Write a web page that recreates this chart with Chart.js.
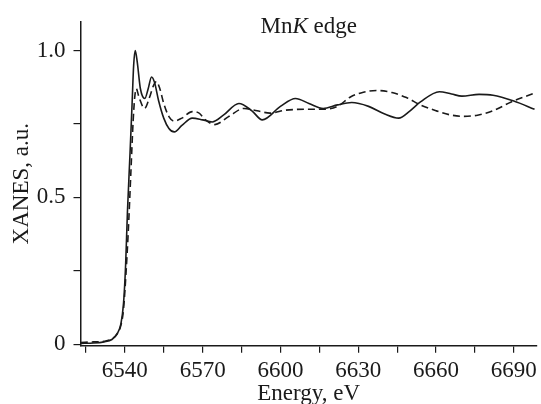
<!DOCTYPE html>
<html>
<head>
<meta charset="utf-8">
<script src="https://cdn.jsdelivr.net/npm/chart.js@4.4.0/dist/chart.umd.min.js"></script>
<style>
  html, body { margin: 0; padding: 0; background: #fff; }
  #wrap { width: 541px; height: 404px; }
</style>
</head>
<body>
<div id="wrap"><canvas id="grafico" width="541" height="404"></canvas></div>
<script>
// Mn K edge, XANES (solid = experiment, dashed = calculation)
const energiaSolid = [6523, 6528, 6532, 6535, 6537, 6538.5, 6539.5, 6540.3, 6541, 6542, 6542.8, 6543.4, 6544,
  6544.8, 6546, 6547.7, 6549, 6550.3, 6551.5, 6553, 6555, 6557, 6559.1, 6562, 6566, 6570, 6573.7, 6578, 6584,
  6589, 6593, 6600, 6605.8, 6611, 6616.5, 6622, 6627.5, 6634, 6640, 6645.6, 6650, 6654, 6661.3, 6666, 6670,
  6676.6, 6682, 6690, 6698];
const xanesSolid = [0.003, 0.004, 0.008, 0.016, 0.035, 0.07, 0.14, 0.27, 0.45, 0.65, 0.82, 0.95, 1.0,
  0.96, 0.87, 0.837, 0.87, 0.91, 0.89, 0.83, 0.77, 0.735, 0.723, 0.745, 0.77, 0.764, 0.757, 0.78, 0.82,
  0.795, 0.764, 0.81, 0.837, 0.82, 0.803, 0.815, 0.823, 0.81, 0.785, 0.77, 0.795, 0.825, 0.86, 0.852, 0.845,
  0.851, 0.848, 0.828, 0.80];

const energiaDashed = [6523, 6528, 6532, 6535, 6537, 6538.5, 6539.5, 6540.5, 6541.3, 6542.3, 6543.2, 6543.8,
  6544.4, 6545.5, 6547.6, 6549.5, 6551, 6552.2, 6553.5, 6555, 6557, 6559, 6562, 6566, 6568.5, 6571, 6574.7,
  6580, 6586, 6591, 6596, 6602, 6610, 6617, 6622, 6627, 6632, 6637.3, 6643, 6648.6, 6654, 6660, 6665, 6670.5,
  6676, 6682, 6689, 6698];
const xanesDashed = [0.006, 0.008, 0.01, 0.018, 0.035, 0.065, 0.12, 0.25, 0.38, 0.58, 0.76, 0.84,
  0.87, 0.84, 0.803, 0.84, 0.88, 0.895, 0.87, 0.82, 0.775, 0.76, 0.77, 0.792, 0.788, 0.765, 0.748,
  0.775, 0.803, 0.795, 0.787, 0.797, 0.80, 0.80, 0.81, 0.842, 0.858, 0.864, 0.857, 0.84, 0.815, 0.795, 0.782, 0.776,
  0.78, 0.795, 0.825, 0.855];

const xTicks = [6525, 6540, 6555, 6570, 6585, 6600, 6615, 6630, 6645, 6660, 6675, 6690];
const xLabels = [6540, 6570, 6600, 6630, 6660, 6690];
const yTicks = [0, 0.25, 0.5, 0.75, 1.0];
const yLabels = { 0: '0', 0.5: '0.5', 1: '1.0' };

const serif = "'Liberation Serif', 'Times New Roman', serif";
const tinta = '#1a1a1a';

function pontos(xs, ys) {
  return xs.map((x, i) => ({ x: x, y: ys[i] }));
}

// titulo "MnK edge" dentro da area do grafico
const tituloInterno = {
  id: 'tituloInterno',
  afterDraw(chart) {
    const ctx = chart.ctx;
    const area = chart.chartArea;
    const partes = [
      { t: 'Mn', f: '23px ' + serif },
      { t: 'K', f: 'italic 23px ' + serif },
      { t: ' edge', f: '23px ' + serif }
    ];
    ctx.save();
    let total = 0;
    partes.forEach(p => { ctx.font = p.f; p.w = ctx.measureText(p.t).width; total += p.w; });
    let x = (area.left + area.right) / 2 - total / 2;
    ctx.fillStyle = tinta;
    ctx.textBaseline = 'alphabetic';
    partes.forEach(p => { ctx.font = p.f; ctx.fillText(p.t, x, 33); x += p.w; });
    ctx.restore();
  }
};

new Chart(document.getElementById('grafico'), {
  type: 'scatter',
  data: {
    datasets: [
      {
        data: pontos(energiaSolid, xanesSolid),
        showLine: true,
        borderColor: tinta,
        borderWidth: 1.6,
        pointRadius: 0,
        cubicInterpolationMode: 'monotone'
      },
      {
        data: pontos(energiaDashed, xanesDashed),
        showLine: true,
        borderColor: tinta,
        borderWidth: 1.6,
        borderDash: [7, 4],
        pointRadius: 0,
        cubicInterpolationMode: 'monotone'
      }
    ]
  },
  options: {
    responsive: false,
    animation: false,
    layout: { padding: { top: 15, right: 4, left: 0, bottom: 0 } },
    plugins: { legend: { display: false }, tooltip: { enabled: false } },
    scales: {
      x: {
        type: 'linear',
        min: 6522.9,
        max: 6698.9,
        afterBuildTicks: s => { s.ticks = xTicks.map(v => ({ value: v })); },
        afterFit: s => { s.height = 58.3; },
        grid: { drawOnChartArea: false, drawTicks: true, tickLength: 7, color: tinta, lineWidth: 1.2 },
        border: { display: true, color: tinta, width: 1.5 },
        ticks: {
          autoSkip: false,
          maxRotation: 0,
          padding: 4,
          color: tinta,
          font: { family: serif, size: 23 },
          callback: v => xLabels.includes(v) ? String(v) : ''
        },
        title: {
          display: true,
          text: 'Energy, eV',
          color: tinta,
          font: { family: serif, size: 23, lineHeight: 1 },
          padding: { top: 0, bottom: -1 }
        }
      },
      y: {
        min: -0.005,
        max: 1.098,
        afterBuildTicks: s => { s.ticks = yTicks.map(v => ({ value: v })); },
        afterFit: s => { s.width = 80.5; },
        grid: { drawOnChartArea: false, drawTicks: true, tickLength: 7, color: tinta, lineWidth: 1.2 },
        border: { display: true, color: tinta, width: 1.5 },
        ticks: {
          padding: 8,
          color: tinta,
          font: { family: serif, size: 23 },
          callback: v => (v in yLabels) ? yLabels[v] : ''
        },
        title: {
          display: true,
          text: 'XANES, a.u.',
          color: tinta,
          font: { family: serif, size: 23, lineHeight: 1 },
          padding: { top: 10, bottom: 0 }
        }
      }
    }
  },
  plugins: [tituloInterno]
});
</script>
</body>
</html>
